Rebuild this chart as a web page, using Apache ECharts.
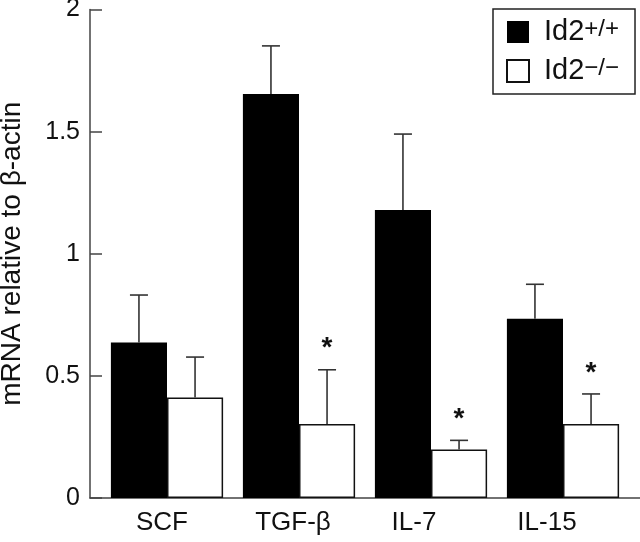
<!DOCTYPE html>
<html>
<head>
<meta charset="utf-8">
<script src="https://cdn.jsdelivr.net/npm/echarts@6/dist/echarts.min.js"></script>
<style>
html,body{margin:0;padding:0;background:#fff;}
#chart{width:640px;height:542px;}
</style>
</head>
<body>
<div id="chart"></div>
<script>
// ---- data ----
const categories = ['SCF', 'TGF-\u03b2', 'IL-7', 'IL-15'];
const wtValues = [0.637, 1.654, 1.179, 0.734];
const wtErrors = [0.194, 0.197, 0.311, 0.141];
const koValues = [0.411, 0.303, 0.199, 0.303];
const koErrors = [0.166, 0.222, 0.037, 0.123];
const koSignificant = [false, true, true, true];
const yTicks = [0, 0.5, 1, 1.5, 2];

// ---- presentation ----
const FONT = '"Liberation Sans", Arial, sans-serif';
const labelShiftLeft = [5, 6, 17, 16];
const BAR_FRAC = 0.85; // 1 - barCategoryGap

const chart = echarts.init(document.getElementById('chart'), null, {renderer: 'canvas'});

function errorRenderer(side) {
  return function (params, api) {
    const i = api.value(0), v = api.value(1), e = api.value(2), sig = api.value(3);
    const base = api.coord([i, v]);
    const top = api.coord([i, v + e]);
    const band = api.size([1, 0])[0];
    const x = base[0] + side * band * BAR_FRAC / 4;
    const children = [
      {type: 'line', shape: {x1: x, y1: base[1], x2: x, y2: top[1]},
       style: {stroke: '#333', lineWidth: 1.6}},
      {type: 'line', shape: {x1: x - 9, y1: top[1], x2: x + 9, y2: top[1]},
       style: {stroke: '#333', lineWidth: 1.6}}
    ];
    if (sig) {
      children.push({type: 'text', x: x, y: top[1] - 21,
        style: {text: '*', font: 'bold 28px ' + FONT, fill: '#111',
                textAlign: 'center', textVerticalAlign: 'middle'}});
    }
    return {type: 'group', children: children};
  };
}

const option = {
  animation: false,
  backgroundColor: '#fff',
  grid: [
    {left: 101, right: 11, top: 9.5, bottom: 44, containLabel: false, outerBoundsMode: 'none'},
    {left: 90, right: 0, top: 9.5, bottom: 44, containLabel: false, outerBoundsMode: 'none'}
  ],
  legend: {
    orient: 'vertical',
    left: 493, top: 9,
    padding: [8, 16, 8, 13],
    itemGap: 9,
    itemWidth: 22, itemHeight: 22,
    borderColor: '#222', borderWidth: 1.5,
    icon: 'rect',
    data: ['wt', 'ko'],
    formatter: function (name) {
      return name === 'wt' ? '{b|Id2}{s|+/+}' : '{b|Id2}{s|\u2212/\u2212}';
    },
    textStyle: {
      fontFamily: FONT, fontSize: 28, lineHeight: 30, color: '#111',
      padding: [0, 0, 0, 10],
      rich: {
        b: {fontFamily: FONT, fontSize: 29, color: '#111', lineHeight: 30},
        s: {fontFamily: FONT, fontSize: 24, color: '#111', lineHeight: 10, verticalAlign: 'top'}
      }
    }
  },
  xAxis: [
    {
      gridIndex: 0, type: 'category',
      data: categories.map((c, i) => ({value: c, textStyle: {padding: [0, 2 * labelShiftLeft[i], 0, 0]}})),
      axisLine: {show: false}, axisTick: {show: false},
      axisLabel: {fontFamily: FONT, fontSize: 26, color: '#111', margin: 12}
    },
    {
      gridIndex: 1, type: 'category', data: [''],
      axisLine: {show: true, lineStyle: {color: '#444', width: 1.5}},
      axisTick: {show: false}, axisLabel: {show: false}
    }
  ],
  yAxis: [
    {gridIndex: 0, type: 'value', min: 0, max: 2, interval: 0.5, show: false},
    {
      gridIndex: 1, type: 'value', min: 0, max: 2, interval: 0.5,
      name: 'mRNA relative to \u03b2-actin',
      nameLocation: 'middle', nameGap: 64,
      nameTextStyle: {fontFamily: FONT, fontSize: 28, color: '#111'},
      axisLine: {show: true, lineStyle: {color: '#444', width: 1.5}},
      axisTick: {show: true, inside: true, length: 12, lineStyle: {color: '#444', width: 1.5}},
      splitLine: {show: false},
      axisLabel: {fontFamily: FONT, fontSize: 25, color: '#111', margin: 10,
        customValues: yTicks, formatter: v => String(v)}
    }
  ],
  series: [
    {
      name: 'wt', type: 'bar', xAxisIndex: 0, yAxisIndex: 0,
      data: wtValues, barGap: '0%', barCategoryGap: '15%',
      itemStyle: {color: '#000', borderColor: '#000', borderWidth: 0}
    },
    {
      name: 'ko', type: 'bar', xAxisIndex: 0, yAxisIndex: 0,
      data: koValues, barGap: '0%', barCategoryGap: '15%',
      itemStyle: {color: '#fff', borderColor: '#111', borderWidth: 1.5}
    },
    {
      type: 'custom', xAxisIndex: 0, yAxisIndex: 0, z: 5,
      renderItem: errorRenderer(-1),
      encode: {x: 0, y: 1},
      data: categories.map((c, i) => [i, wtValues[i], wtErrors[i], 0])
    },
    {
      type: 'custom', xAxisIndex: 0, yAxisIndex: 0, z: 5,
      renderItem: errorRenderer(1),
      encode: {x: 0, y: 1},
      data: categories.map((c, i) => [i, koValues[i], koErrors[i], koSignificant[i] ? 1 : 0])
    }
  ]
};
chart.setOption(option);
</script>
</body>
</html>
